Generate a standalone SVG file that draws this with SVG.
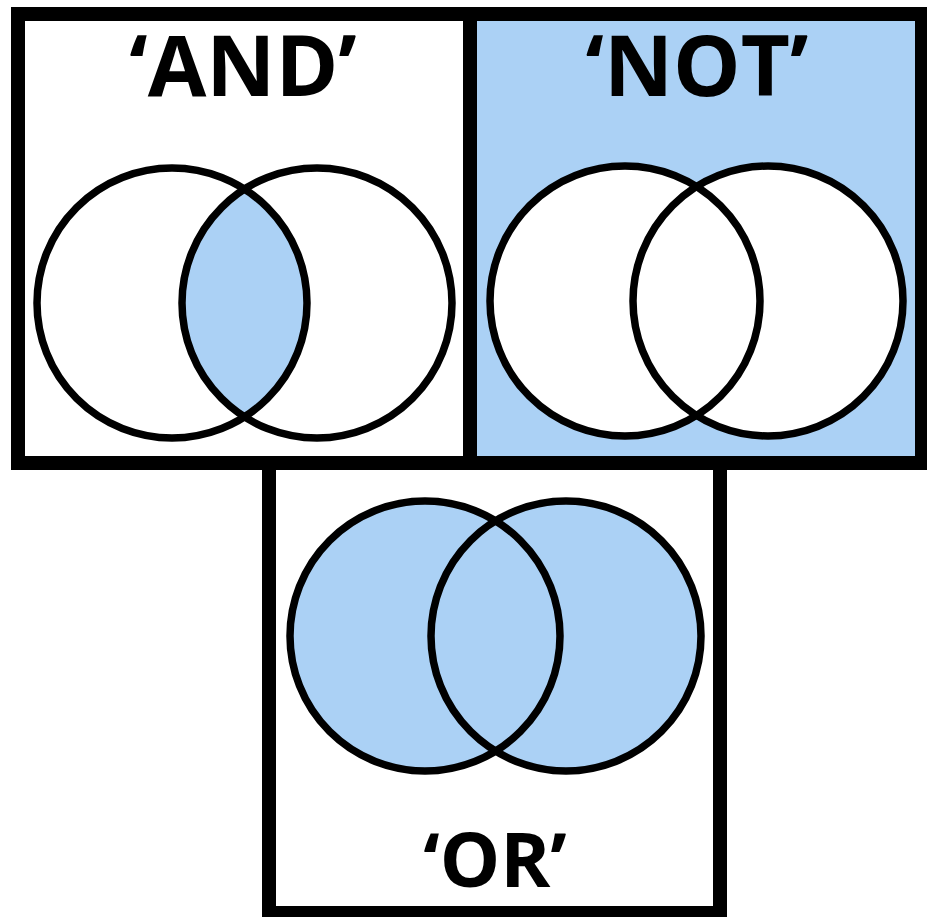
<svg xmlns="http://www.w3.org/2000/svg" width="927" height="917" viewBox="0 0 927 917">
<style>
.frame{fill:none;stroke:#000;stroke-width:14}
.c{fill:none;stroke:#000;stroke-width:7.5}
.blue{fill:#abd1f5}
.lbl{font-family:"Open Sans","Liberation Sans",sans-serif;font-weight:bold;fill:#000;text-anchor:middle}
</style>
<defs>
<clipPath id="andClip"><circle cx="172" cy="303" r="135"/></clipPath>
</defs>
<rect width="927" height="917" fill="#fff"/>
<g id="not-panel">
<rect x="470" y="14" width="452" height="449" class="blue"/>
<circle cx="625" cy="301" r="135" fill="#fff"/>
<circle cx="768" cy="301" r="135" fill="#fff"/>
<circle cx="625" cy="301" r="135" class="c"/>
<circle cx="768" cy="301" r="135" class="c"/>
<text x="697" y="96" class="lbl" font-size="85">‘NOT’</text>
</g>
<g id="and-panel">
<circle cx="317" cy="303" r="135" class="blue" clip-path="url(#andClip)"/>
<circle cx="172" cy="303" r="135" class="c"/>
<circle cx="317" cy="303" r="135" class="c"/>
<text x="243" y="96" class="lbl" font-size="85">‘AND’</text>
</g>
<g id="or-panel">
<circle cx="425" cy="636" r="135" class="blue"/>
<circle cx="566" cy="636" r="135" class="blue"/>
<circle cx="425" cy="636" r="135" class="c"/>
<circle cx="566" cy="636" r="135" class="c"/>
<text x="495" y="887" class="lbl" font-size="76">‘OR’</text>
</g>
<g id="frames">
<rect x="18" y="14" width="904" height="449" class="frame"/>
<line x1="470" y1="14" x2="470" y2="463" class="frame"/>
<rect x="269" y="463" width="451" height="450" class="frame"/>
</g>
</svg>
